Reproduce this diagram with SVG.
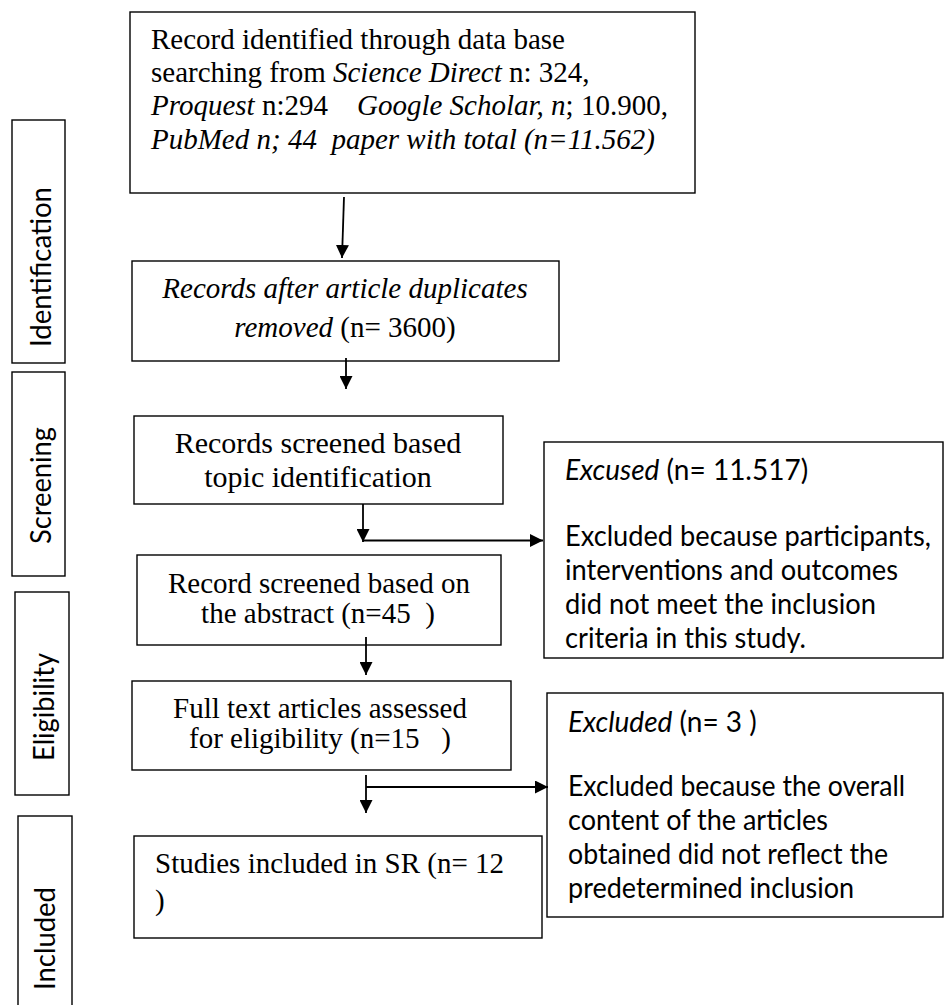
<svg xmlns="http://www.w3.org/2000/svg" width="944" height="1005" viewBox="0 0 944 1005">
<defs>
<style>
.box{fill:#fff;stroke:#000;stroke-width:1.4}
.lbl{fill:#fff;stroke:#000;stroke-width:1.4}
.tn{font-family:"Liberation Serif","Times New Roman",serif;font-size:29px;fill:#000}
.cal{font-family:Lato,"Open Sans",sans-serif;font-size:28px;fill:#000}
.side{font-family:Lato,"Open Sans",sans-serif;font-size:28px;fill:#000}
.it{font-style:italic}
.ln{fill:none;stroke:#000;stroke-width:1.8}
</style>
<marker id="ah" markerWidth="13" markerHeight="13" refX="13" refY="6.5" orient="auto" markerUnits="userSpaceOnUse">
<path d="M0,0 L13,6.5 L0,13 Z" fill="#000"/>
</marker>
</defs>
<rect width="944" height="1005" fill="#fff"/>

<g id="label-identification">
<rect class="lbl" x="12" y="120" width="53" height="243"/>
<text class="side" transform="translate(51,347) rotate(-90)" textLength="160" lengthAdjust="spacingAndGlyphs">Identification</text>
</g>
<g id="label-screening">
<rect class="lbl" x="12" y="372" width="53" height="204"/>
<text class="side" transform="translate(51,544) rotate(-90)" textLength="117" lengthAdjust="spacingAndGlyphs">Screening</text>
</g>
<g id="label-eligibility">
<rect class="lbl" x="15" y="592" width="54" height="203"/>
<text class="side" transform="translate(54,761) rotate(-90)" textLength="108" lengthAdjust="spacingAndGlyphs">Eligibility</text>
</g>
<g id="label-included">
<rect class="lbl" x="18" y="816" width="54" height="200"/>
<text class="side" transform="translate(55,990) rotate(-90)" textLength="103" lengthAdjust="spacingAndGlyphs">Included</text>
</g>

<g id="node-identified">
<rect class="box" x="130" y="12" width="565" height="181"/>
<text class="tn" x="151" y="49" xml:space="preserve">Record identified through data base</text>
<text class="tn" x="151" y="82" xml:space="preserve">searching from <tspan class="it">Science Direct</tspan> n: 324,</text>
<text class="tn" x="151" y="115" xml:space="preserve"><tspan class="it">Proquest</tspan> n:294    <tspan class="it">Google Scholar, n</tspan>; 10.900,</text>
<text class="tn it" x="151" y="149" xml:space="preserve">PubMed n; 44  paper with total (n=11.562)</text>
</g>

<g id="node-duplicates">
<rect class="box" x="132" y="261" width="427" height="100"/>
<text class="tn it" x="345" y="298" text-anchor="middle">Records after article duplicates</text>
<text class="tn" x="345" y="337" text-anchor="middle"><tspan class="it">removed</tspan> (n= 3600)</text>
</g>

<g id="node-topic">
<rect class="box" x="134" y="416" width="369" height="88"/>
<text class="tn" x="318" y="453" text-anchor="middle" style="font-size:30px">Records screened based</text>
<text class="tn" x="318" y="487" text-anchor="middle" style="font-size:30px">topic identification</text>
</g>

<g id="node-abstract">
<rect class="box" x="137" y="555" width="364" height="90"/>
<text class="tn" x="319" y="593" text-anchor="middle">Record screened based on</text>
<text class="tn" x="318" y="623" text-anchor="middle" xml:space="preserve">the abstract (n=45  )</text>
</g>

<g id="node-fulltext">
<rect class="box" x="132" y="681" width="379" height="89"/>
<text class="tn" x="320" y="718" text-anchor="middle">Full text articles assessed</text>
<text class="tn" x="320" y="748" text-anchor="middle" xml:space="preserve">for eligibility (n=15   )</text>
</g>

<g id="node-included">
<rect class="box" x="134" y="836" width="408" height="102"/>
<text class="tn" x="155" y="873">Studies included in SR (n= 12</text>
<text class="tn" x="155" y="910">)</text>
</g>

<g id="node-excused">
<rect class="box" x="544" y="442" width="399" height="216"/>
<text class="cal" x="565" y="480"><tspan class="it">Excused</tspan> (n= 11.517)</text>
<text class="cal" x="565" y="546" textLength="366" lengthAdjust="spacingAndGlyphs">Excluded because participants,</text>
<text class="cal" x="565" y="580" textLength="333" lengthAdjust="spacingAndGlyphs">interventions and outcomes</text>
<text class="cal" x="565" y="614" textLength="311" lengthAdjust="spacingAndGlyphs">did not meet the inclusion</text>
<text class="cal" x="565" y="648" textLength="241" lengthAdjust="spacingAndGlyphs">criteria in this study.</text>
</g>

<g id="node-excluded">
<rect class="box" x="547" y="693" width="396" height="224"/>
<text class="cal" x="568" y="732" xml:space="preserve"><tspan class="it">Excluded</tspan> (n= 3 )</text>
<text class="cal" x="568" y="796" textLength="337" lengthAdjust="spacingAndGlyphs">Excluded because the overall</text>
<text class="cal" x="568" y="830" textLength="260" lengthAdjust="spacingAndGlyphs">content of the articles</text>
<text class="cal" x="568" y="864" textLength="320" lengthAdjust="spacingAndGlyphs">obtained did not reflect the</text>
<text class="cal" x="568" y="898" textLength="286" lengthAdjust="spacingAndGlyphs">predetermined inclusion</text>
</g>

<g id="connectors">
<path class="ln" d="M344,197 L342,258" marker-end="url(#ah)"/>
<path class="ln" d="M346,358 L346,389" marker-end="url(#ah)"/>
<path class="ln" d="M363,504 L363,542" marker-end="url(#ah)"/>
<path class="ln" d="M363,540.5 L543,540.5" marker-end="url(#ah)"/>
<path class="ln" d="M366,637 L366,675" marker-end="url(#ah)"/>
<path class="ln" d="M366,775 L366,813" marker-end="url(#ah)"/>
<path class="ln" d="M366,787 L548,787" marker-end="url(#ah)"/>
</g>
</svg>
